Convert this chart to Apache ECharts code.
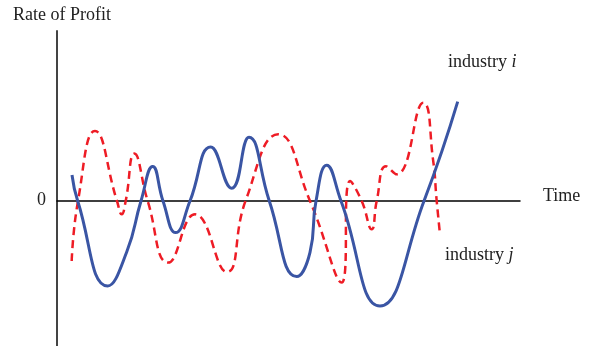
<!DOCTYPE html>
<html>
<head>
<meta charset="utf-8">
<script src="https://cdn.jsdelivr.net/npm/echarts@6/dist/echarts.min.js"></script>
<style>
html,body{margin:0;padding:0;background:#fff;}
#c{width:591px;height:346px;}
</style>
</head>
<body>
<div id="c"></div>
<script>
// Time values and rate-of-profit values (arbitrary units)
var timeI = [1.5, 2.07, 5.07, 6.97, 8.4, 9.57, 10.6, 11.87, 13.3, 15.37, 17.47, 19.2, 21.23, 23.97, 25.3, 25.9, 26.97, 28.4, 32.3, 36.7, 40.07];
var profitI = [2.6, 0, -8.5, -5.1, 0, 3.44, 0, -3.16, 0, 5.4, 1.27, 6.37, 0, -7.56, -5.13, 0, 3.57, 0, -10.5, 0, 9.94];

var timeJ = [1.47, 2.1, 3.8, 6.0, 6.47, 6.87, 7.73, 9.07, 11.13, 13.8, 16.97, 18.85, 22.13, 25.3, 28.47, 29.3, 30.47, 31.47, 31.97, 32.9, 33.97, 36.63, 37.6, 37.97, 38.3];
var profitJ = [-6.0, 0, 7.0, 0, -1.33, 0, 4.74, 0, -6.16, -1.33, -7.1, 0, 6.67, 0, -8.16, 2.0, 0, -2.83, 0, 3.47, 2.67, 9.82, 4.17, 0, -3.33];

var labels = {yName: 'Rate of Profit', xName: 'Time', zero: '0', seriesI: 'industry ', seriesJ: 'industry '};

function pairs(xs, ys){ return xs.map(function(x,i){ return [x, ys[i]]; }); }

var chart = echarts.init(document.getElementById('c'), null, {renderer:'canvas'});
var serif = '"Liberation Serif", "DejaVu Serif", serif';
var f = '18px ' + serif;
chart.setOption({
  animation: false,
  grid: {left: 57, right: 71, top: 31, bottom: 0},
  xAxis: {
    type: 'value', min: 0, max: 46.3,
    axisLine: {show: true, onZero: true, lineStyle: {color: '#000', width: 1.5}},
    axisTick: {show: false}, axisLabel: {show: false}, splitLine: {show: false}
  },
  yAxis: {
    type: 'value', min: -14.5, max: 17,
    axisLine: {show: true, lineStyle: {color: '#444', width: 2}},
    axisTick: {show: false}, axisLabel: {show: false}, splitLine: {show: false}
  },
  graphic: [
    {type:'text', left: 13, top: 6, style:{text: labels.yName, font: f, fill:'#222'}},
    {type:'text', left: 37, top: 191, style:{text: labels.zero, font: f, fill:'#222'}},
    {type:'text', left: 543, top: 187, style:{text: labels.xName, font: f, fill:'#222'}},
    {type:'text', left: 448, top: 53, style:{rich:{a:{font: f, fill:'#222'}, b:{font:'italic ' + f, fill:'#222'}}, text: '{a|' + labels.seriesI + '}{b|i}'}},
    {type:'text', left: 445, top: 246, style:{rich:{a:{font: f, fill:'#222'}, b:{font:'italic ' + f, fill:'#222'}}, text: '{a|' + labels.seriesJ + '}{b|j}'}}
  ],
  series: [
    {
      name: 'industry j', type: 'line', smooth: 0.5, showSymbol: false,
      data: pairs(timeJ, profitJ),
      lineStyle: {color: '#ee1c25', width: 2.5, type: [8, 5]}
    },
    {
      name: 'industry i', type: 'line', smooth: 0.5, showSymbol: false,
      data: pairs(timeI, profitI),
      lineStyle: {color: '#3a55a4', width: 3}
    }
  ]
});
</script>
</body>
</html>
